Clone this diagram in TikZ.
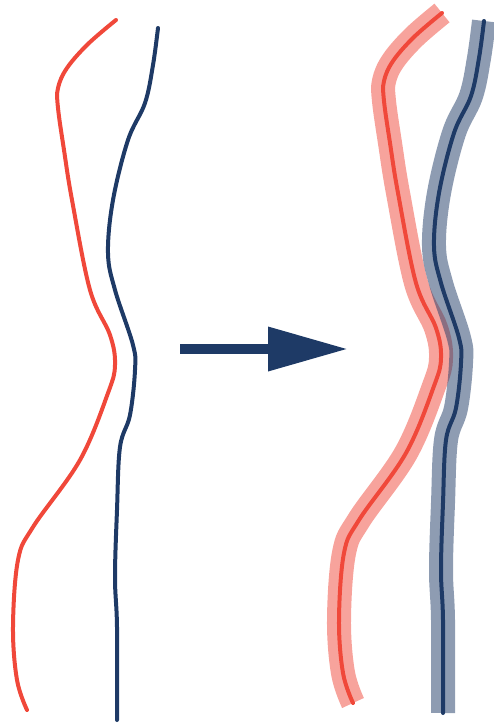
\documentclass[tikz,border=0pt]{standalone}
\usetikzlibrary{arrows.meta}
\definecolor{strandred}{RGB}{240,72,58}
\definecolor{strandnavy}{RGB}{30,58,102}

\begin{document}
\begin{tikzpicture}[x=1pt, y=-1pt]
% Styles
\tikzstyle{redline} = [draw=strandred, line width=4pt, line cap=round]
\tikzstyle{navyline} = [draw=strandnavy, line width=4pt, line cap=round]
\tikzstyle{redhalo} = [draw=strandred, line width=24pt, opacity=0.5]
\tikzstyle{navyhalo} = [draw=strandnavy, line width=24pt, opacity=0.5]
\tikzstyle{arrow} = [draw=strandnavy, line width=10pt, -{Triangle[length=80pt, width=42pt]}]

% Curves
\def\redcurve{plot[smooth, tension=0.6] coordinates {(116,20) (88,44) (67,68) (58,88) (58,108) (64,150) (72,200) (90,290) (110,335) (115,365) (108,393) (80,460) (33,527) (18,560) (13,627) (17,680) (27,710)}}
\def\navycurve{plot[smooth, tension=0.6] coordinates {(158,28) (153,65) (145,103) (128,140) (113,200) (108,253) (115,290) (133,345) (135,370) (130,415) (120,447) (117,510) (115,577) (117,627) (117,720)}}

\useasboundingbox (0,0) rectangle (493,723);

% Before
\draw [redline] \redcurve;
\draw [navyline] \navycurve;

% After
\begin{scope}[shift={(326,-7)}]
\draw [redhalo] \redcurve;
\draw [navyhalo] \navycurve;
\draw [redline] \redcurve;
\draw [navyline] \navycurve;
\end{scope}

% Arrow
\coordinate (from) at (180,349);
\coordinate (to) at (348,349);
\draw [arrow] (from) -- (to);

\end{tikzpicture}
\end{document}
